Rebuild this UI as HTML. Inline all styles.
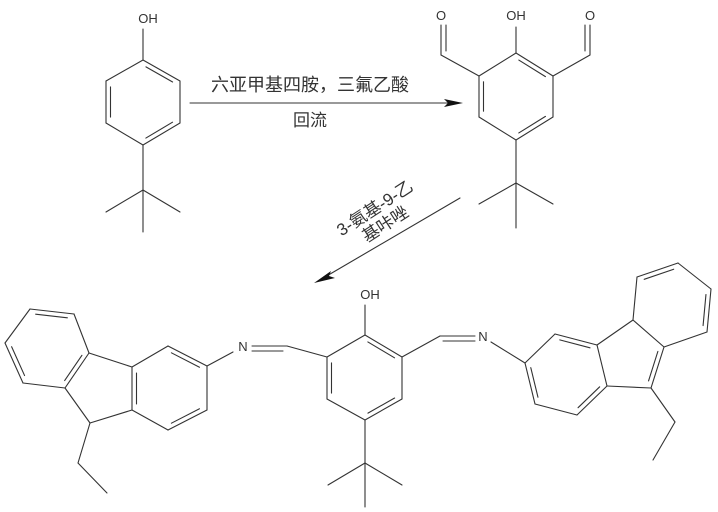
<!DOCTYPE html>
<html><head><meta charset="utf-8"><style>
html,body{margin:0;padding:0;background:#fff;}
svg{display:block;}
text{font-family:"Liberation Sans","Noto Sans CJK SC",sans-serif;fill:#333;}
</style></head><body>
<svg id="s" width="718" height="512" viewBox="0 0 718 512" xmlns="http://www.w3.org/2000/svg">
<g id="g" stroke="#333" stroke-width="1.1" fill="none" stroke-linecap="round"></g>
<text x="148" y="23" font-size="13" text-anchor="middle">OH</text>
<text x="441" y="20" font-size="13" text-anchor="middle">O</text>
<text x="516" y="20" font-size="13" text-anchor="middle">OH</text>
<text x="590" y="20" font-size="13" text-anchor="middle">O</text>
<text x="370" y="299" font-size="13" text-anchor="middle">OH</text>
<text x="243" y="351" font-size="13" text-anchor="middle">N</text>
<text x="483" y="341" font-size="13" text-anchor="middle">N</text>
<text x="310" y="91" font-size="18" text-anchor="middle" fill="#444">六亚甲基四胺，三氟乙酸</text>
<text x="310" y="126" font-size="17" text-anchor="middle" fill="#444">回流</text>
<g transform="translate(378,213) rotate(-33)" fill="#444">
<text x="0" y="0" font-size="17" text-anchor="middle">3-氨基-9-乙</text>
<text x="0" y="19" font-size="17" text-anchor="middle">基咔唑</text>
</g>
<polygon points="463,103 444,99 448,103 444,107" fill="#111"/>
<polygon points="314,283 331,271 329,276 335,278" fill="#111"/>
</svg>
<script>
var g=document.getElementById('g'),NS="http://www.w3.org/2000/svg";
function L(a,b,c,d){var l=document.createElementNS(NS,'line');l.setAttribute('x1',a);l.setAttribute('y1',b);l.setAttribute('x2',c);l.setAttribute('y2',d);g.appendChild(l);}
function P(pts){for(var i=0;i<pts.length-1;i++)L(pts[i][0],pts[i][1],pts[i+1][0],pts[i+1][1]);}
function ring(p){P(p.concat([p[0]]));}
function D(a,b,c){
 var mx=(a[0]+b[0])/2,my=(a[1]+b[1])/2,dx=b[0]-a[0],dy=b[1]-a[1],len=Math.hypot(dx,dy);
 var nx=-dy/len,ny=dx/len; if((c[0]-mx)*nx+(c[1]-my)*ny<0){nx=-nx;ny=-ny;}
 var o=4.5,s=0.14;
 L(a[0]+dx*s+nx*o,a[1]+dy*s+ny*o,b[0]-dx*s+nx*o,b[1]-dy*s+ny*o);}
function cen(p){var x=0,y=0;p.forEach(function(q){x+=q[0];y+=q[1];});return [x/p.length,y/p.length];}
function R(p,d){ring(p);var c=cen(p);d.forEach(function(i){D(p[i],p[(i+1)%p.length],c);});}
R([[143,60],[180,81],[180,123],[143,145],[106,123],[106,81]],[0,2,4]);
L(143,29,143,60);L(143,145,143,190);L(143,190,106,212);L(143,190,180,212);L(143,190,143,232);
R([[516,53],[553,76],[553,117],[516,140],[479,117],[479,76]],[0,2,4]);
L(516,27,516,53);L(516,140,516,183);L(516,183,479,204);L(516,183,553,204);L(516,183,516,228);
P([[479,76],[441,55],[441,25]]);L(446,51,446,25);
P([[553,76],[590,55],[590,25]]);L(585,51,585,25);
L(190,103,450,103);L(460,198,325,277);
R([[365,335],[402,357],[402,399],[365,420],[327,399],[327,357]],[0,2,4]);
L(365,305,365,335);L(365,420,365,463);L(365,463,328,485);L(365,463,402,485);L(365,463,365,507);
P([[327,357],[287,346],[252,346]]);L(283,351,252,351);L(233,352,207,366);
P([[402,357],[440,336],[475,336]]);L(443,341,475,341);L(491,342,525,363);
R([[207,366],[168,346],[132,367],[132,410],[168,430],[207,410]],[0,2,4]);
R([[89,353],[74,314],[30,309],[5,343],[23,383],[65,388]],[1,3,5]);
P([[132,367],[89,353]]);P([[132,410],[90,423],[65,388]]);
P([[90,423],[78,463],[107,493]]);
R([[525,363],[555,334],[597,345],[607,386],[577,415],[535,404]],[1,3,5]);
var up=[[633,320],[637,277],[678,263],[711,289],[707,332],[664,347]];
R(up,[1,3]);
L(597,345,633,320);L(607,386,651,388);L(664,347,651,388);
D([664,347],[651,388],[628,360]);
P([[651,388],[675,422],[653,460]]);
</script>
</body></html>
